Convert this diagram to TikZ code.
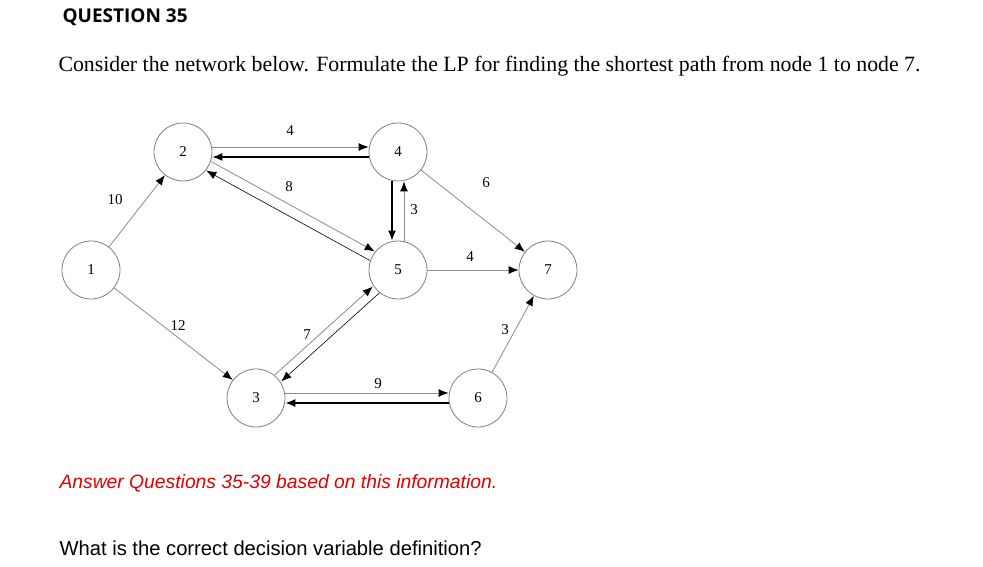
\documentclass[tikz,border=0pt]{standalone}
\usepackage{fontspec}
\setmainfont{Liberation Serif}
\newfontfamily\arialf{Liberation Sans}
\newfontfamily\headf{Open Sans}
\usetikzlibrary{arrows.meta}
\definecolor{ered}{HTML}{E00000}
\begin{document}
\begin{tikzpicture}[x=1pt,y=-1pt,
  nd/.style={circle,draw=black!50,line width=0.8pt,minimum size=58pt,inner sep=0pt,font=\fontsize{15}{15}\selectfont},
  ga/.style={draw=black!45,line width=0.8pt,-{Latex[black,length=10pt,width=8pt]}},
  ba/.style={draw=black,line width=1.2pt,-{Latex[black,length=10pt,width=8pt]}},
  ta/.style={draw=black,line width=0.6pt,-{Latex[black,length=10pt,width=8pt]}},
  lb/.style={font=\fontsize{15}{15}\selectfont}]
\useasboundingbox (0,0) rectangle (983,567);
\fill[white] (0,0) rectangle (983,567);
\node[anchor=west,font=\headf\bfseries\fontsize{19}{19}\selectfont] (q) at (59,17) {QUESTION 35};
\node[anchor=west,font=\fontsize{21.8}{22}\selectfont] (s) at (55,66) {Consider the network below. Formulate the LP for finding the shortest path from node 1 to node 7.};
\node[anchor=west,font=\arialf\itshape\fontsize{19.3}{19}\selectfont,text=ered] (a) at (56,483) {Answer Questions 35-39 based on this information.};
\node[anchor=west,font=\arialf\fontsize{20.2}{20}\selectfont] (w) at (56,548) {What is the correct decision variable definition?};
\node[nd] (n1) at (91,270) {1};
\node[nd] (n2) at (183,152) {2};
\node[nd] (n4) at (398,152) {4};
\node[nd] (n5) at (398,270) {5};
\node[nd] (n7) at (548,270) {7};
\node[nd] (n3) at (256,398) {3};
\node[nd] (n6) at (478,398) {6};
\draw[ga] (n1) -- (n2);
\draw[ga] (n1) -- (n3);
\draw[ga] ([yshift=5]n2.east) -- ([yshift=5]n4.west);
\draw[ba] ([yshift=-5]n4.west) -- ([yshift=-5]n2.east);
\draw[ga,transform canvas={shift={(2.5,-4.5)}}] (n2) -- (n5);
\draw[ta,transform canvas={shift={(-2.5,4.5)}}] (n5) -- (n2);
\draw[ba] ([xshift=-6]n4.south) -- ([xshift=-6]n5.north);
\draw[ga] ([xshift=6]n5.north) -- ([xshift=6]n4.south);
\draw[ga] (n4) -- (n7);
\draw[ga] (n5) -- (n7);
\draw[ga,transform canvas={shift={(-3.5,-3)}}] (n3) -- (n5);
\draw[ta,transform canvas={shift={(3.5,3)}}] (n5) -- (n3);
\draw[ga] ([yshift=5]n3.east) -- ([yshift=5]n6.west);
\draw[ba] ([yshift=-5]n6.west) -- ([yshift=-5]n3.east);
\draw[ga] (n6) -- (n7);
\node[lb] (l1) at (290,131) {4};
\node[lb] (l2) at (289,187) {8};
\node[lb] (l3) at (486,183) {6};
\node[lb] (l4) at (414,210) {3};
\node[lb] (l5) at (470,257) {4};
\node[lb] (l6) at (115,200) {10};
\node[lb] (l7) at (178,326) {12};
\node[lb] (l8) at (307,335) {7};
\node[lb] (l9) at (378,384) {9};
\node[lb] (l10) at (505,330) {3};
\end{tikzpicture}
\end{document}
